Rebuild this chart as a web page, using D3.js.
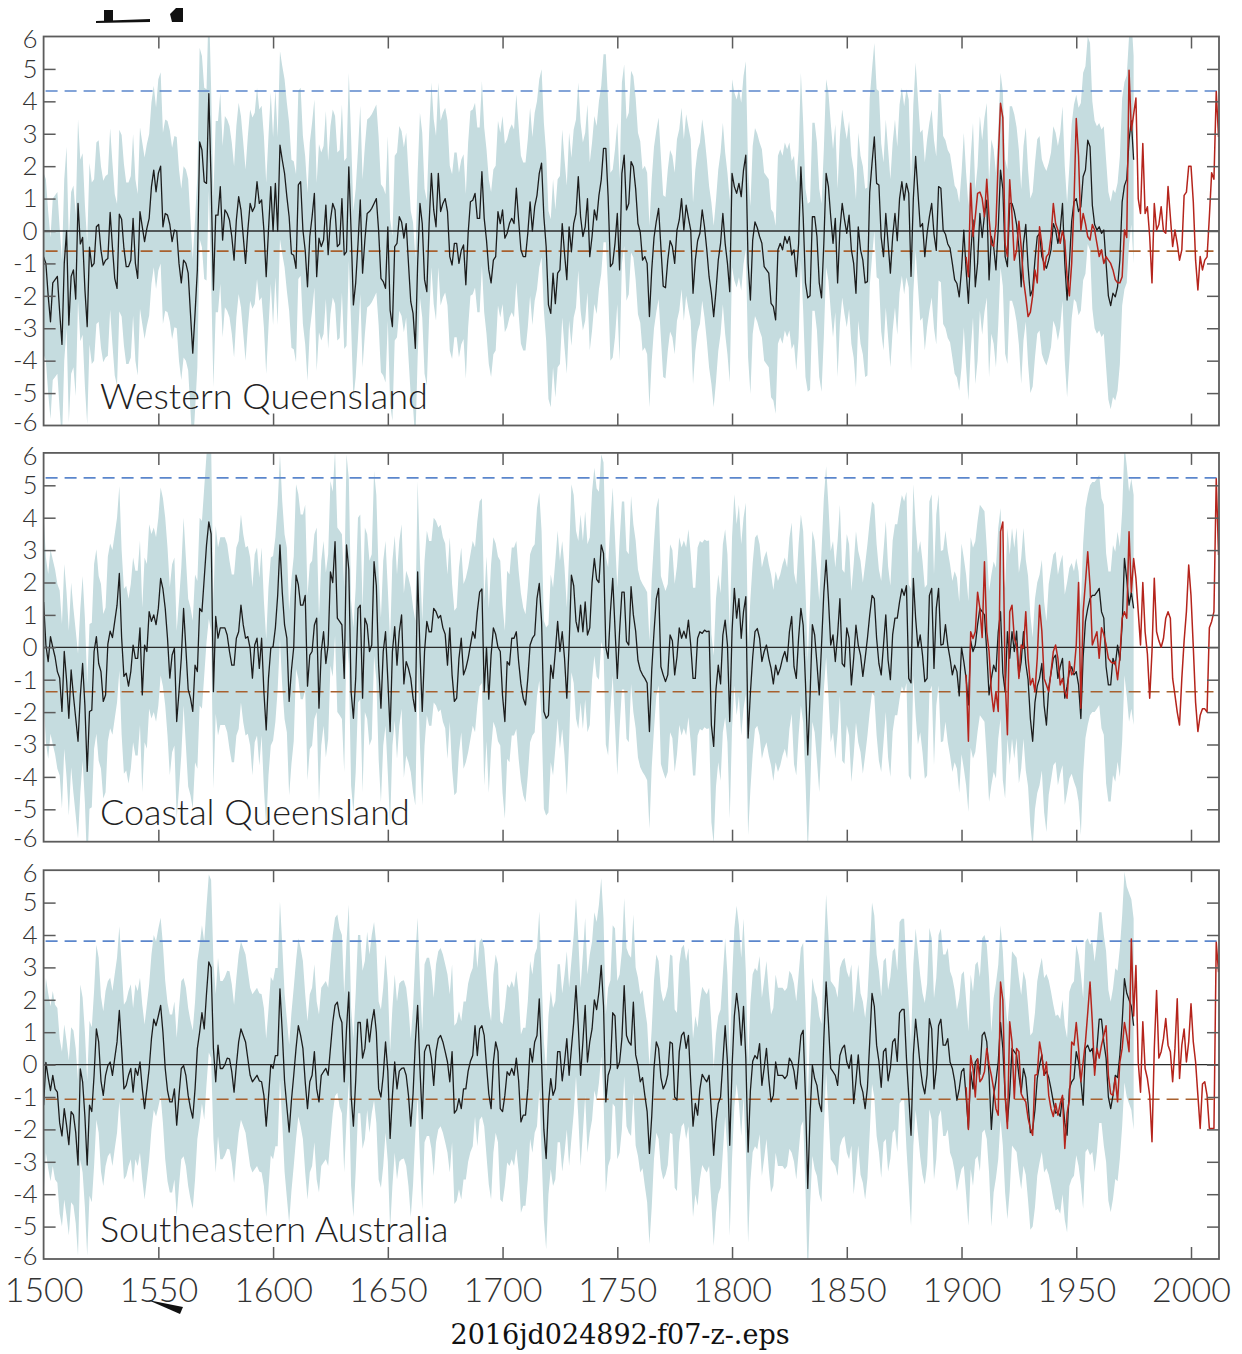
<!DOCTYPE html>
<html><head><meta charset="utf-8">
<script src="https://cdn.jsdelivr.net/npm/d3@7"></script>
<style>body{margin:0;background:#fff}svg{display:block}</style>
</head><body>
<script>
// ---------------- DATA ----------------
const regions = ["Western Queensland", "Coastal Queensland", "Southeastern Australia"];
const reconStart = 1500;   // reconstruction: one value per year 1500-1975
const obsStart = 1902;     // observations: one value per year 1902-2012

const wqRecon = [
-0.8,-1.0,-2.0,-2.8,-1.6,-1.5,-1.4,-2.5,-3.5,-1.0,
0.0,-2.9,-1.4,-1.2,-2.1,0.85,-0.4,-0.2,-1.8,-2.95,
-0.5,-1.1,-1.0,0.13,0.2,-0.6,-1.05,-0.9,-0.85,0.57,
-0.5,-1.46,-1.77,0.52,0.36,-0.53,-1.1,-1.1,-0.9,0.39,
-1.0,-1.46,0.6,0.13,-0.33,0.08,0.39,1.37,1.88,1.21,
1.78,2.0,0.13,0.54,0.49,0.2,-0.33,0.03,0.0,-1.0,
-1.6,-0.9,-1.0,-1.3,-2.54,-3.77,-2.54,-1.2,2.75,2.5,
1.52,1.47,4.24,1.5,-1.82,0.49,0.49,1.37,-0.28,0.65,
0.54,0.34,-0.17,-0.9,0.34,1.06,0.65,-0.17,-1.0,0.03,
0.85,0.6,0.75,1.52,0.85,0.96,0.03,-1.41,0.03,1.37,
0.0,1.47,0.0,2.65,2.19,1.78,1.06,0.44,-0.7,-0.75,
-1.15,1.42,1.52,0.03,-0.6,-1.72,-0.17,0.44,1.16,-1.41,
-0.22,-0.48,-0.28,0.8,-0.73,0.34,0.85,0.65,-0.48,-0.4,
1.0,-0.74,-0.64,1.98,0.0,-2.28,-1.6,-0.4,0.96,-1.3,
-0.28,0.54,0.6,0.7,0.85,1.0,0.0,-1.46,-1.56,-1.77,
0.13,-2.44,-2.95,-0.48,-0.38,0.44,0.28,-0.22,0.23,-1.0,
-2.18,-2.54,-3.62,-1.0,0.85,0.23,-1.5,-1.87,0.23,1.78,
0.65,0.13,1.78,0.6,0.85,1.0,0.6,-0.79,-1.05,-0.38,
-0.38,-1.0,-0.6,-0.43,-1.66,-0.07,0.9,0.95,1.16,0.39,
0.39,1.83,0.39,-0.28,-1.2,-1.6,-0.9,-0.79,0.6,0.23,
0.65,-0.22,-0.07,0.23,0.39,0.23,1.32,0.34,-0.58,-0.79,
-0.79,-0.07,0.9,0.0,0.75,1.1,1.78,2.09,0.44,-0.48,
-2.28,-2.54,-1.3,-2.24,-1.3,-1.2,0.23,-0.69,-1.5,0.13,
-0.64,0.23,0.54,1.68,0.44,-0.17,0.13,1.0,-0.79,-0.17,
0.65,0.34,1.1,1.58,2.55,2.55,1.06,-1.1,-1.0,-0.38,
0.54,-1.2,1.78,2.34,0.65,0.85,2.14,1.98,1.3,0.23,
-0.03,-0.9,-0.79,-1.0,-2.64,-1.2,-0.2,0.3,0.7,-0.5,
-1.7,-1.75,-0.9,-0.3,-0.48,-1.0,0.03,0.34,1.0,0.03,
0.8,0.4,0.03,-1.92,-0.9,-0.3,-0.07,0.65,0.13,-0.58,
-1.41,-1.92,-2.64,-1.85,-0.9,-0.38,0.54,-0.38,-1.0,-1.87,
1.78,1.37,1.16,1.47,1.06,1.88,2.34,-1.0,-2.13,-0.28,
0.28,0.1,-0.17,-0.38,-1.1,-1.2,-1.3,-2.23,-2.33,-2.74,
-0.58,-0.38,-0.58,-0.17,-0.38,-0.17,-0.74,-0.58,-1.41,-0.4,
1.98,0.44,-1.6,-2.06,-2.0,0.44,0.44,-0.17,-1.6,-2.06,
-0.38,1.78,1.37,0.44,-0.38,0.39,-1.6,0.03,0.85,0.34,
-0.07,0.49,-0.58,-1.0,-1.92,0.13,-0.58,-0.9,-1.6,-1.56,
1.2,2.09,2.9,1.47,1.42,-0.2,-0.79,0.54,-0.38,-1.3,
-0.17,0.54,-0.3,1.0,1.52,0.95,1.47,1.16,-1.4,1.0,
2.3,1.2,0.13,0.23,-0.79,-0.07,0.44,0.85,-0.1,-0.6,
1.37,1.32,0.03,-0.1,-0.4,-0.53,-1.0,-1.5,-1.62,-2.03,
-1.2,0.03,-1.2,-2.23,-0.7,0.34,-1.72,-1.0,0.54,-0.2,
0.5,0.95,-1.51,-0.17,-0.48,-1.2,0.1,1.88,1.3,-0.79,
-1.1,0.85,0.85,0.6,0.2,-0.5,-1.72,-0.38,0.2,-1.1,
-2.0,-1.8,-0.9,-0.17,-0.07,-0.79,-1.0,-1.15,-0.9,-0.58,
0.23,0.03,-0.38,0.03,0.85,-1.0,-2.13,-1.0,0.3,0.9,
1.0,0.6,0.75,1.68,1.88,2.8,2.6,0.8,0.2,0.03,
0.13,-0.07,0.03,-1.0,-2.0,-2.3,-1.92,-2.03,-1.72,-0.9,
0.9,1.4,1.6,2.8,3.4,2.2];

const cqRecon = [
1.4,0.07,-0.44,0.33,0.0,-0.3,-0.75,-0.95,-1.98,-0.13,
-1.0,-2.19,-0.7,-1.5,-2.19,-2.9,-1.5,-0.5,-1.8,-3.83,
-1.98,-1.94,-0.13,0.33,-0.5,-0.75,-1.67,-1.47,0.1,0.5,
0.3,0.8,1.3,2.28,0.3,-0.9,-0.8,-1.2,-0.75,0.07,
-0.34,-0.34,0.6,-1.47,0.07,-0.13,1.1,0.8,1.0,0.7,
1.2,2.13,1.8,1.2,0.27,-0.95,-0.24,-0.03,-2.29,-1.37,
-0.34,1.2,-0.03,-1.3,-1.57,-1.98,-0.55,-0.75,1.2,1.1,
2.13,3.16,3.87,3.5,-1.37,0.95,0.28,0.6,0.6,0.6,
0.38,-0.13,-0.55,-0.55,0.28,0.48,1.3,0.69,0.28,0.33,
-0.03,-0.95,0.07,0.28,-0.65,0.28,-1.37,-2.55,-0.95,-0.03,
0.02,0.6,1.6,3.16,1.7,0.69,0.28,-1.67,-0.7,0.0,
2.23,1.93,1.3,1.3,1.6,-1.2,-0.24,-0.13,0.69,0.9,
-1.88,-0.13,0.48,-0.5,0.07,2.33,2.0,3.26,0.9,0.8,
0.69,-0.96,3.16,2.4,-1.37,-2.19,-0.96,1.2,1.3,-1.57,
0.9,0.69,-0.13,0.07,2.64,1.9,-0.55,-1.88,-0.13,0.48,
-1.0,-2.6,-0.13,0.64,-0.55,0.48,1.0,-1.13,-0.44,-0.65,
-0.96,-1.57,-1.98,2.33,-0.13,-1.98,-0.13,0.8,0.48,0.48,
1.2,1.1,0.9,0.98,0.6,0.4,-0.55,0.6,-0.85,-1.67,
-1.57,-0.34,0.28,-0.85,-0.65,-0.34,0.07,0.48,0.28,1.1,
1.7,1.8,-1.37,0.0,-1.6,-0.24,0.6,0.4,0.0,-0.13,
-1.5,-2.29,-0.44,-0.55,0.28,0.28,0.48,-0.44,-1.13,-1.57,
-1.78,-0.96,0.07,0.28,0.38,1.5,1.97,0.8,-1.98,-2.19,
-2.1,-0.55,-0.96,-0.13,0.8,-0.13,0.48,-0.34,-1.57,0.07,
2.23,1.9,0.8,0.48,1.3,0.48,1.4,0.38,0.6,2.0,
2.74,2.1,2.0,3.16,2.9,0.0,-0.34,1.1,2.13,0.58,
-0.96,0.5,1.7,1.7,0.18,0.07,1.87,1.0,0.5,-0.4,
-0.7,-0.85,-0.96,-1.1,-2.6,-0.7,0.48,1.5,1.82,-0.6,
-0.85,-1.06,-0.85,0.38,0.2,-0.85,-0.3,0.6,0.28,0.5,
0.28,0.84,0.07,-0.96,-0.96,0.28,0.48,0.43,0.53,0.48,
0.5,-2.4,-3.06,-1.3,-0.55,-1.13,0.38,0.84,0.07,-2.29,
0.5,1.82,0.9,1.5,0.28,1.1,1.56,-2.8,-1.4,-0.3,
0.48,0.58,0.28,-0.44,-0.13,0.07,-0.34,-0.65,-1.13,-0.55,
-0.85,-0.65,-0.34,-0.13,-0.44,0.48,0.95,-0.6,-0.96,0.28,
1.2,0.68,-1.1,-3.32,-1.5,0.7,0.38,-0.5,-1.47,0.07,
1.7,2.69,1.5,0.07,0.38,-0.44,0.38,1.5,-0.5,-0.6,
0.6,0.28,-1.16,-0.34,0.68,0.07,-0.24,-0.9,-0.34,0.28,
1.0,1.6,1.5,0.28,-0.5,-0.85,0.07,1.0,-0.4,-1.0,
0.4,0.9,0.9,1.4,1.8,1.6,1.9,-0.96,-1.1,2.13,
0.9,0.0,0.38,-0.24,-1.06,-0.96,1.6,1.82,-0.65,1.2,
1.82,0.07,0.1,0.7,0.07,-0.34,-0.85,-0.55,-0.75,-1.5,
0.0,-0.44,-0.96,-1.78,0.2,-0.13,0.07,0.7,1.2,1.1,
1.0,-0.13,-1.47,-0.96,-0.55,-0.75,0.48,1.1,-0.8,-1.37,
0.48,-0.34,0.48,-0.13,0.5,-0.9,-0.44,0.48,-0.5,-1.0,
-2.2,-2.9,-1.7,-1.2,-0.96,-0.5,-1.8,-2.4,-1.25,-0.8,
-0.34,-0.24,-0.96,-0.6,-0.34,-1.57,-1.2,-0.75,-0.6,-0.85,
-0.75,-1.16,-2.2,-0.3,0.8,1.2,1.5,1.6,1.6,1.7,
1.82,1.1,0.9,-0.6,-1.16,-1.16,-0.34,-0.55,0.07,-0.4,
0.7,2.74,2.1,1.3,1.7,1.2];

const seRecon = [
-1.25,0.07,-0.4,-0.8,-0.33,-0.75,-0.85,-1.8,-2.2,-1.36,
-1.87,-2.47,-1.45,-1.55,-2.1,-3.1,-0.13,-0.53,-1.6,-3.1,
-1.25,-1.45,-0.33,1.1,0.7,-0.5,-0.95,-0.33,-0.03,0.08,
-0.33,0.2,0.7,1.67,0.5,-0.75,-0.64,-0.33,-0.12,-0.85,
-0.12,-0.33,0.08,-0.75,-1.36,-0.75,-0.12,0.8,1.4,1.2,
1.5,1.83,1.0,-0.12,-0.8,-1.15,-1.15,-0.75,-1.87,-0.95,
-0.12,-0.03,-0.33,-0.95,-1.35,-1.65,-0.75,0.5,1.0,1.6,
1.1,2.2,3.17,3.0,0.5,-0.53,0.6,-0.12,-0.12,0.0,
0.2,0.18,-0.22,-0.85,-0.02,0.7,1.1,0.9,0.7,0.18,
-0.33,-0.53,-0.43,-0.33,-0.5,-0.53,-0.95,-1.9,-1.0,0.0,
-0.12,0.28,0.28,2.34,1.0,-0.5,-1.3,-2.08,-1.1,-0.33,
0.5,1.2,0.9,0.5,-0.53,-1.36,-0.53,-0.33,0.4,-0.75,
-1.15,-0.33,-0.22,-0.12,-0.33,0.5,1.3,1.83,1.93,1.5,
1.3,-0.53,1.1,2.24,-0.95,-1.9,-0.5,1.3,1.3,0.2,
0.5,1.4,0.7,1.3,1.7,1.0,-0.75,-1.0,-0.33,0.7,
-0.2,-2.28,-0.95,0.08,-0.75,-0.2,-0.12,-0.1,-0.33,-0.95,
-1.9,-0.9,0.7,1.83,-0.12,-1.67,0.4,0.6,0.6,0.2,
-0.64,0.4,0.8,0.9,0.7,0.4,0.08,-0.53,0.4,-1.5,
-1.4,-1.05,-1.36,-0.75,-0.75,-0.2,0.1,0.28,1.2,0.28,
1.1,1.2,0.9,-0.02,-0.9,-1.36,0.08,0.7,0.4,-1.36,
-1.45,-0.95,-0.22,-0.33,-0.12,-0.33,0.2,-0.5,-1.77,-1.56,
-1.56,-0.75,0.5,0.08,0.7,0.9,2.03,0.08,-2.0,-2.9,
-1.2,-0.43,-0.95,-0.74,0.4,0.4,-0.5,0.08,0.8,-0.33,
0.5,1.3,2.44,1.2,-0.33,0.7,1.83,0.08,0.7,1.1,
2.0,1.7,2.24,3.06,1.8,-1.15,-0.33,-0.1,1.6,1.5,
-0.12,0.08,0.8,2.44,0.9,0.7,0.6,1.93,0.3,-0.02,
-0.53,-0.4,-0.95,-1.45,-2.74,-1.6,-0.1,0.7,0.5,-0.4,
-0.75,-0.6,-0.3,0.7,0.65,-1.0,-1.1,0.4,0.9,1.0,
0.5,0.9,-0.53,-1.9,-1.2,-1.56,-0.75,-0.3,-0.43,-0.53,
-0.33,-1.45,-2.8,-1.77,-1.2,-1.0,0.1,1.2,0.08,-2.49,
-0.1,1.5,2.2,1.6,0.6,1.8,0.2,-2.7,-0.8,0.1,
0.28,0.18,0.65,-0.64,-0.1,0.5,-0.43,-1.15,-0.95,0.08,
-0.33,-0.33,-0.33,-0.43,-0.33,0.2,0.08,-0.2,-0.75,0.08,
0.9,1.06,-1.0,-3.82,-1.56,-0.02,-0.43,-0.64,-1.2,-1.45,
0.8,2.55,1.3,-0.12,-0.22,-0.33,-0.64,0.28,0.5,0.6,
0.08,-0.12,0.3,-1.2,-0.5,0.3,-0.6,-0.85,-1.36,-0.7,
0.7,2.2,1.8,0.6,0.1,-0.7,0.4,0.5,-0.5,-0.1,
0.7,0.8,0.1,1.6,1.7,1.7,0.2,-0.95,-2.18,0.3,
1.4,0.7,-0.05,-0.6,-0.9,-0.3,1.42,1.1,-0.75,-0.12,
1.2,1.4,0.6,0.6,0.8,0.08,-0.12,-0.5,-1.1,-0.75,
-0.22,-0.12,-1.0,-1.97,-0.22,-0.75,0.08,0.18,-0.3,0.9,
1.0,0.7,-0.33,-2.0,-0.95,-0.5,0.08,1.3,0.5,-0.95,
-1.77,-0.9,0.5,0.4,0.3,-0.33,-0.85,-0.12,-0.4,-1.2,
-2.1,-2.0,-1.4,-0.43,-0.02,0.3,-0.33,-0.2,-0.4,-0.75,
-1.15,-1.5,-1.45,-1.6,-1.0,-1.8,-2.18,-0.75,-0.53,-0.43,
0.4,0.08,-0.5,-1.25,0.5,0.6,0.4,0.5,-0.12,0.5,
1.4,1.4,0.7,0.2,-1.0,-1.36,-0.95,-0.33,-0.4,0.3,
1.3,2.65,2.2,2.0,1.8,1.2];

const wqObs = [
-0.8,-1.41,1.47,-0.17,0.44,1.16,1.2,1.0,
0.44,1.6,0.4,-0.4,-0.48,0.2,2.2,3.94,3.5,-0.4,
-0.79,1.58,0.5,-0.9,-0.6,0.3,-0.5,-1.5,-2.03,-2.64,
-2.5,-2.0,-1.2,-1.6,0.13,-0.4,-1.2,-0.79,-0.7,-0.17,
0.85,0.23,0.03,-0.38,0.0,-0.3,-1.41,-2.0,-1.0,0.85,
3.47,2.3,0.03,0.54,0.23,-0.17,-0.28,0.2,0.03,-0.38,
-0.79,-0.58,-1.0,-0.79,-0.9,-1.0,-1.2,-1.5,-1.6,-1.6,
-1.41,0.03,-0.2,4.96,3.1,3.6,4.1,1.0,0.54,2.7,
0.54,0.75,-0.17,-1.6,0.85,0.03,0.2,0.75,0.0,-0.07,
1.37,0.44,-0.48,0.03,-0.38,-0.9,-0.58,1.1,1.2,2.0,
2.0,0.9,-0.9,-1.82,-0.79,-1.2,-0.9,-0.8,0.44,1.8,
1.6,4.3,2.9];

const cqObs = [
-0.85,-2.9,0.48,0.27,0.48,1.7,1.2,0.3,
2.64,0.48,-0.13,-1.37,-1.98,-1.37,-1.98,3.57,3.87,-0.96,
-2.7,1.1,1.3,0.27,0.07,-0.96,0.07,-0.03,1.1,-0.34,
-1.16,-0.96,-1.37,-0.34,1.3,0.5,-0.96,-1.16,-1.37,-0.75,
-0.13,0.07,-0.34,-1.16,-0.96,-1.37,-1.57,-0.44,-0.85,-0.75,
0.07,2.0,-1.88,1.1,2.0,2.95,1.9,0.07,0.27,0.48,
-0.34,0.6,0.4,0.07,-0.34,-0.44,-0.5,-0.44,-1.0,-0.3,
0.9,1.1,0.9,3.57,1.7,2.74,2.13,1.1,0.07,2.0,
0.48,-0.2,-1.57,-0.13,2.13,0.48,0.2,0.0,0.27,0.9,
1.1,0.9,-0.96,-1.47,-2.0,-2.4,-0.96,0.2,1.1,2.54,
1.6,0.0,-1.7,-2.6,-2.1,-1.9,-1.9,-2.0,0.6,0.8,
1.1,5.2,2.85];

const seObs = [
-0.7,-2.0,0.28,-0.12,-1.0,0.18,-0.53,-0.43,
-0.22,0.5,0.0,-0.33,-0.75,-1.36,-1.56,2.55,2.0,-0.95,
-1.97,1.32,0.7,-1.05,0.5,0.4,-0.9,-1.05,-1.15,-1.65,
-1.97,-2.18,-0.33,-0.3,0.7,0.3,-0.33,0.08,-0.95,-1.36,
-1.6,-1.2,-1.56,-1.2,-0.95,-2.59,-1.5,-1.1,0.7,0.6,
1.3,0.5,-0.53,0.08,0.7,1.6,2.55,1.3,-0.33,0.5,
0.2,0.6,0.9,1.2,-0.33,-0.9,-0.95,-0.4,-1.15,0.08,
0.5,1.3,0.9,0.4,3.88,1.5,3.06,0.08,-0.85,1.32,
-0.12,-0.43,-0.95,-2.38,0.5,2.29,0.2,0.4,0.8,1.42,
0.6,0.4,-0.53,0.5,2.03,-0.43,0.6,1.1,0.08,0.7,
1.88,0.7,0.08,-0.95,-1.97,-0.6,-0.53,-0.95,-1.97,-1.97,
-1.97,3.78,2.85];

// uncertainty band: distance above / below the reconstruction, per 50-year block
const bandBlocks = [1500,1550,1600,1650,1700,1750,1800,1850,1900,1950];
const wqBandUp = [2.6,2.9,2.9,2.8,2.9,2.8,2.9,2.9,3.0,3.2];
const wqBandDn = [3.0,3.0,2.9,2.9,2.9,2.8,2.9,2.9,3.0,3.2];
const cqBandUp = [2.7,2.8,2.8,2.8,2.8,2.8,2.9,2.9,3.2,3.5];
const cqBandDn = [3.0,3.0,2.9,2.9,3.0,3.0,3.0,3.0,3.3,3.6];
const seBandUp = [2.6,2.7,2.7,2.7,2.7,2.7,2.7,2.8,3.0,3.3];
const seBandDn = [2.8,2.8,2.8,2.8,2.8,2.8,2.8,2.8,3.0,3.2];

// thresholds (dashed lines)
const thrHigh = [4.32, 5.23, 3.81];
const thrLow  = [-0.62, -1.37, -1.07];

const yTicks = [-6,-5,-4,-3,-2,-1,0,1,2,3,4,5,6];
const xTicks = [1500,1550,1600,1650,1700,1750,1800,1850,1900,1950,2000];
const caption = "2016jd024892-f07-z-.eps";

// ---------------- DRAWING ----------------
const W = 1242, H = 1354;
const svg = d3.select("body").append("svg").attr("width", W).attr("height", H)
  .style("background", "#fff");

const x = d3.scaleLinear().domain([1500, 2012.2]).range([43.6, 1219]);
const X0 = x(1500), X1 = x(2012.2);

const panelBox = [[36.5, 425.5], [452.9, 841.7], [870.2, 1259.0]];
const recons = [wqRecon, cqRecon, seRecon];
const obs = [wqObs, cqObs, seObs];
const bandUp = [wqBandUp, cqBandUp, seBandUp];
const bandDn = [wqBandDn, cqBandDn, seBandDn];

const FONT = "Lato, 'Open Sans', sans-serif";
const frameColor = "#5c5c5c";

regions.forEach((name, i) => {
  const [top, bot] = panelBox[i];
  const y = d3.scaleLinear().domain([-6, 6]).range([bot, top]);
  const g = svg.append("g");
  const clipId = "clip" + i;
  svg.append("clipPath").attr("id", clipId).append("rect")
    .attr("x", X0).attr("y", top).attr("width", X1 - X0).attr("height", bot - top);
  const plot = g.append("g").attr("clip-path", `url(#${clipId})`);

  const rec = recons[i].map((v, k) => ({ year: reconStart + k, v }));
  const ob = obs[i].map((v, k) => ({ year: obsStart + k, v }));
  const blk = yr => Math.max(0, d3.bisectRight(bandBlocks, yr) - 1);

  // band
  plot.append("path").datum(rec)
    .attr("fill", "#c5dcdf")
    .attr("d", d3.area()
      .x(d => x(d.year))
      .y0(d => y(d.v - bandDn[i][blk(d.year)]))
      .y1(d => y(d.v + bandUp[i][blk(d.year)])));

  // zero line
  plot.append("line").attr("x1", X0).attr("x2", X1).attr("y1", y(0)).attr("y2", y(0))
    .attr("stroke", "#2b2b2b").attr("stroke-width", 1.3);

  // thresholds
  plot.append("line").attr("x1", X0 + 2).attr("x2", X1).attr("y1", y(thrHigh[i])).attr("y2", y(thrHigh[i]))
    .attr("stroke", "#5b86cc").attr("stroke-width", 1.6).attr("stroke-dasharray", "12,7");
  plot.append("line").attr("x1", X0 + 2).attr("x2", x(2009.8)).attr("y1", y(thrLow[i])).attr("y2", y(thrLow[i]))
    .attr("stroke", "#a8602e").attr("stroke-width", 1.6).attr("stroke-dasharray", "12,7");

  const line = d3.line().x(d => x(d.year)).y(d => y(d.v));
  plot.append("path").datum(rec).attr("fill", "none").attr("stroke", "#1c1c1c")
    .attr("stroke-width", 1.3).attr("stroke-linejoin", "round").attr("d", line);
  plot.append("path").datum(ob).attr("fill", "none").attr("stroke", "#b5241c")
    .attr("stroke-width", 1.5).attr("stroke-linejoin", "round").attr("d", line);

  // axes (ticks inside)
  const axL = g.append("g").attr("transform", `translate(${X0},0)`)
    .call(d3.axisLeft(y).tickValues(yTicks).tickSize(-12).tickPadding(6).tickFormat(d => String(d)));
  const axR = g.append("g").attr("transform", `translate(${X1},0)`)
    .call(d3.axisRight(y).tickValues(yTicks.slice(1, -1)).tickSize(-12).tickFormat(""));
  const axT = g.append("g").attr("transform", `translate(0,${top})`)
    .call(d3.axisTop(x).tickValues(xTicks.slice(1)).tickSize(-12).tickFormat(""));
  const axB = g.append("g").attr("transform", `translate(0,${bot})`)
    .call(d3.axisBottom(x).tickValues(i === 2 ? xTicks : xTicks.slice(1)).tickSize(-12).tickPadding(19)
      .tickFormat(i === 2 ? (d => String(d)) : ""));
  [axL, axR, axT, axB].forEach(a => {
    a.select(".domain").remove();
    a.selectAll(".tick line").attr("stroke", frameColor).attr("stroke-width", 1.5);
    a.selectAll("text").attr("fill", "#333").style("font-family", FONT).style("font-weight", 300);
  });
  axL.selectAll("text").style("font-size", "26px");
  // nudge the end labels so neighbouring panels' labels do not collide
  axL.selectAll(".tick").filter(d => d === -6).select("text").attr("dy", "0.2em");
  axL.selectAll(".tick").filter(d => d === 6).select("text").attr("dy", "0.44em");
  axL.selectAll(".tick").filter(d => d === -6 || d === 6).select("line").remove();
  axB.selectAll("text").style("font-size", "34px");
  axB.selectAll(".tick").filter(d => d === 1500).select("line").remove();

  // frame
  g.append("rect").attr("x", X0).attr("y", top).attr("width", X1 - X0).attr("height", bot - top)
    .attr("fill", "none").attr("stroke", frameColor).attr("stroke-width", 1.8);

  // region label
  g.append("text").attr("x", 100).attr("y", bot - 17).text(name)
    .style("font-family", FONT).style("font-weight", 300).style("font-size", "36px").attr("fill", "#222");
});

// caption
svg.append("text").attr("x", 620).attr("y", 1344).attr("text-anchor", "middle").text(caption)
  .style("font-family", "'DejaVu Serif', 'Liberation Serif', serif").style("font-size", "27px").attr("fill", "#111");

// stray crop marks from the source figure
svg.append("path").attr("d", "M104,10 L113,10 L113,22 L104,22 Z M96,21 L150,19 L150,22 L96,23 Z M170,14 L176,8 L183,8 L183,22 L172,22 Z")
  .attr("fill", "#111");
svg.append("path").attr("d", "M148,1300 L183,1307 L180,1314 Z").attr("fill", "#111");
</script>
</body></html>
